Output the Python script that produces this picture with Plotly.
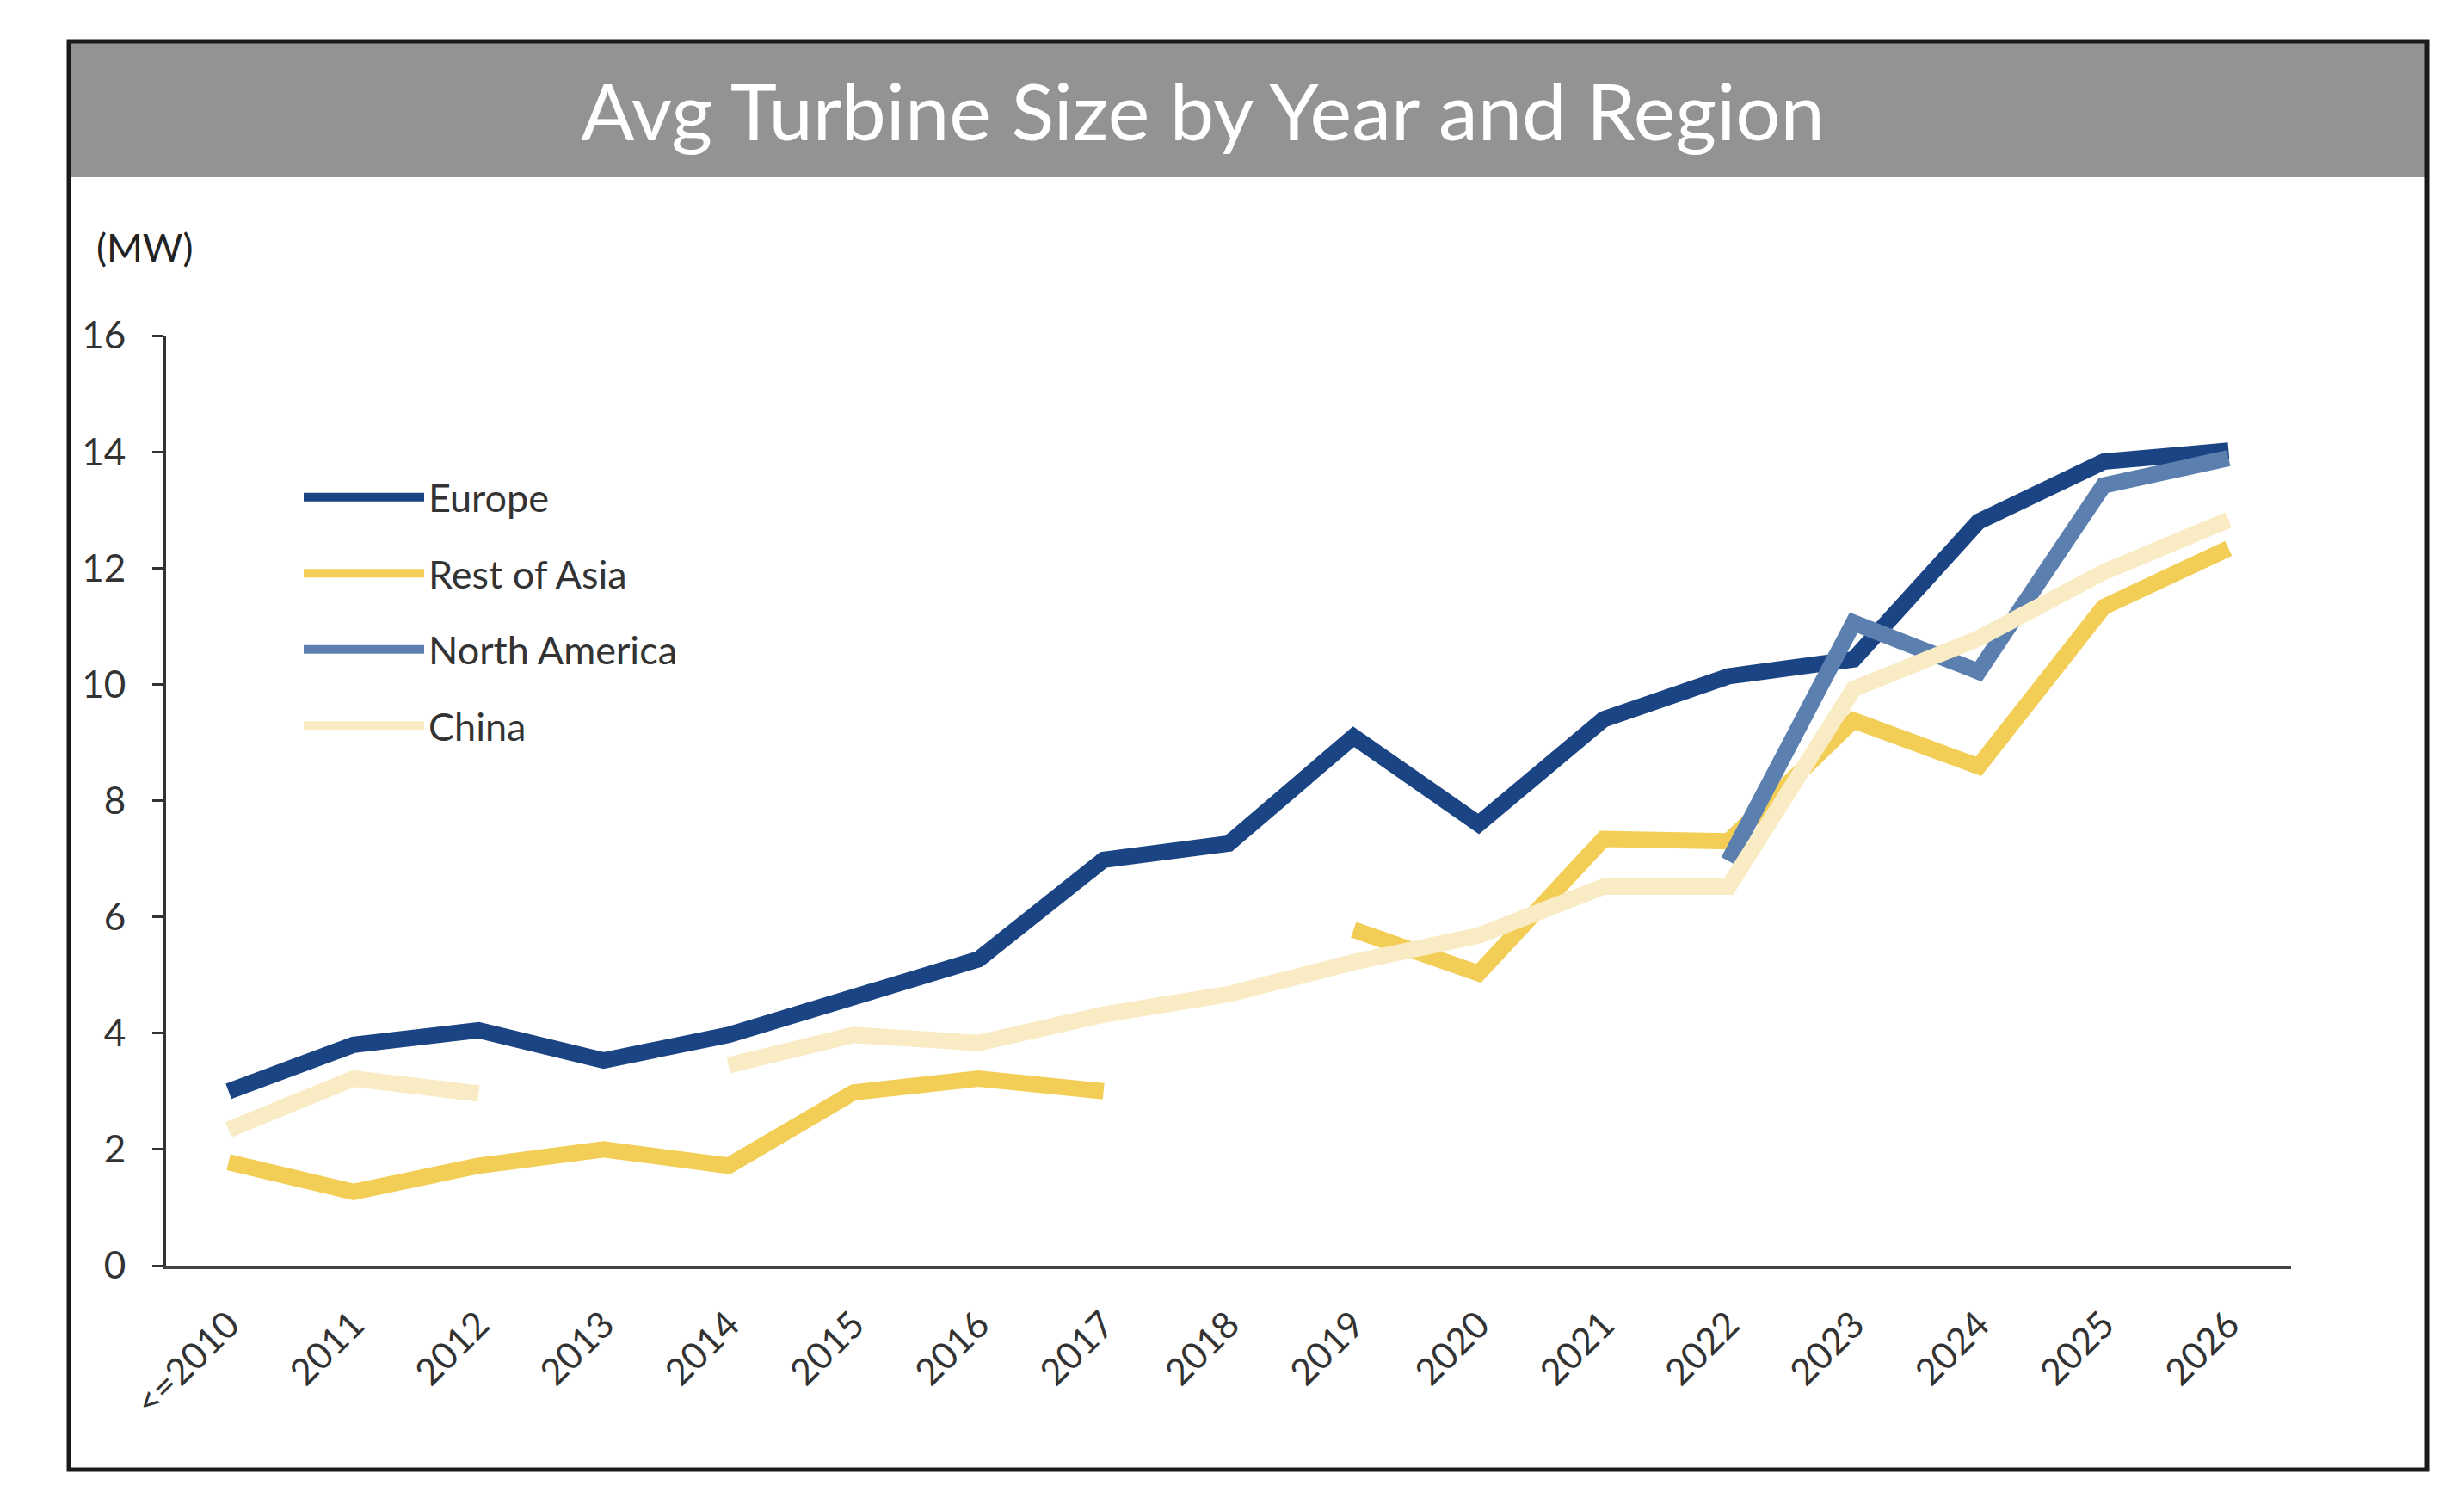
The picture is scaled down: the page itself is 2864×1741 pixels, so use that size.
import plotly.graph_objects as go

years = ["<=2010", "2011", "2012", "2013", "2014", "2015", "2016", "2017", "2018",
         "2019", "2020", "2021", "2022", "2023", "2024", "2025", "2026"]

europe = [3.0, 3.8, 4.05, 3.53, 3.97, 4.6, 5.27, 6.98, 7.26, 9.1, 7.6, 9.4, 10.14, 10.43, 12.8, 13.83, 14.02]
rest_of_asia = [1.78, 1.27, 1.72, 2.0, 1.72, 2.98, 3.22, 3.0, None, 5.78, 5.03, 7.34, 7.3, 9.38, 8.59, 11.33, 12.34]
north_america = [None, None, None, None, None, None, None, None, None, None, None, None, 6.96, 11.06, 10.22, 13.42, 13.89]
china = [2.34, 3.22, 2.96, None, 3.45, 3.97, 3.83, 4.32, 4.67, 5.22, 5.68, 6.52, 6.52, 9.92, 10.79, 11.93, 12.83]

series = [
    ("Europe", europe, "#1A4483"),
    ("Rest of Asia", rest_of_asia, "#F3CE57"),
    ("North America", north_america, "#5B80B0"),
    ("China", china, "#F9EBC3"),
]

FONT = "Lato"
fig = go.Figure()
for i, (name, vals, color) in enumerate(series):
    fig.add_trace(go.Scatter(
        x=years, y=vals, name=name, mode="lines",
        line=dict(color=color, width=19),
        connectgaps=False, legendgroup=f"g{i}",
    ))

W, H = 2864, 1741
L, R, T, B = 185, 2655, 382, 1463
pw, ph = R - L, B - T

def px2x(px):
    return (px - L) / pw

def px2y(py):
    return (B - py) / ph

fig.update_layout(
    width=W, height=H,
    margin=dict(l=L, r=W - R, t=T, b=H - B),
    paper_bgcolor="white", plot_bgcolor="white",
    font=dict(family=FONT, color="#333333", size=42),
    title=dict(text="Avg Turbine Size by Year and Region",
               font=dict(family=FONT, size=92, color="white"),
               x=1390 / W, xanchor="center", y=1 - 123 / H, yanchor="middle",
               xref="container", yref="container"),
    showlegend=True,
    legend=dict(x=px2x(340), y=px2y(534), xanchor="left", yanchor="top",
                bgcolor="rgba(0,0,0,0)", font=dict(family=FONT, size=45, color="#333333"),
                itemwidth=140, tracegroupgap=27, traceorder="grouped"),
    xaxis=dict(type="category", range=[-0.5, 16.5], showgrid=False, zeroline=False,
               showline=True, linecolor="#444444", linewidth=4, ticks="",
               tickangle=-45, tickfont=dict(family=FONT, size=43, color="#333333"),
               ticklabelstandoff=22),
    yaxis=dict(range=[0, 16], dtick=2, showgrid=False, zeroline=False,
               showline=True, linecolor="#333333", linewidth=3, ticks="outside",
               ticklen=13, tickwidth=3, tickcolor="#333333",
               tickfont=dict(family=FONT, size=44, color="#333333"),
               ticklabelstandoff=22),
    shapes=[
        dict(type="rect", xref="paper", yref="paper",
             x0=px2x(72), x1=px2x(2813), y0=px2y(40), y1=px2y(198),
             fillcolor="#939393", line=dict(width=0), layer="below"),
        dict(type="rect", xref="paper", yref="paper",
             x0=px2x(72), x1=px2x(2813), y0=px2y(40), y1=px2y(1700),
             fillcolor="rgba(0,0,0,0)", line=dict(color="#1a1a1a", width=5)),
    ],
    annotations=[
        dict(text="(MW)", xref="paper", yref="paper", x=px2x(102), y=px2y(279),
             xanchor="left", yanchor="middle", showarrow=False,
             font=dict(family=FONT, size=45, color="#222222")),
    ],
)

fig.write_html("out.html")
